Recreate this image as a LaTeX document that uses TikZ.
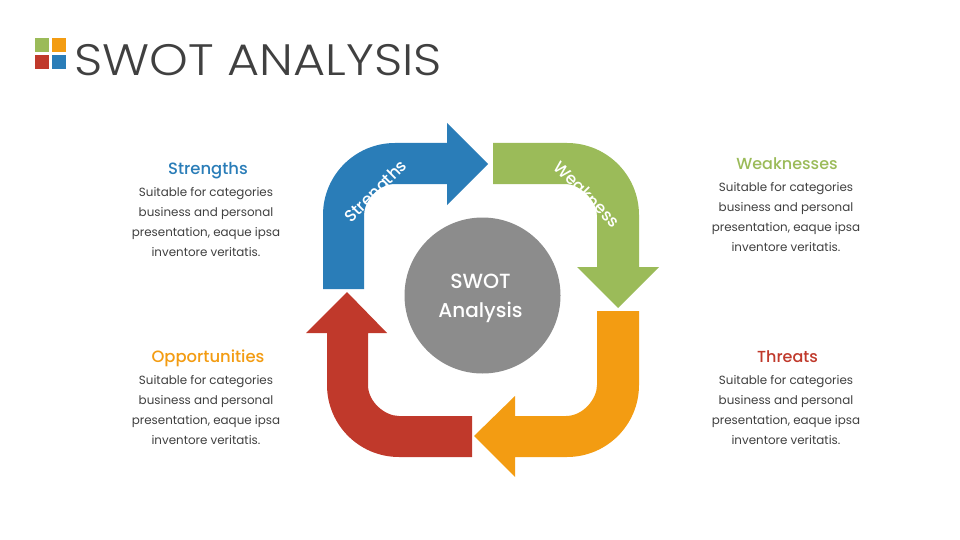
\documentclass[tikz,border=0pt]{standalone}
\usepackage{fontspec}
\setmainfont{Poppins}
\newfontfamily\titlefont[UprightFont=* Light]{Poppins}
\newfontfamily\medfont[UprightFont=* Medium]{Poppins}
\definecolor{cblue}{HTML}{2A7DB8}
\definecolor{cgreen}{HTML}{9BBB59}
\definecolor{corange}{HTML}{F39C12}
\definecolor{cred}{HTML}{C0392B}
\definecolor{cgray}{HTML}{8C8C8C}
\definecolor{ctext}{HTML}{404040}
\tikzset{
  body/.style={align=center,text=ctext,font=\fontsize{11.9}{20}\selectfont,inner sep=0pt,anchor=north},
  head/.style={font=\medfont\fontsize{16.4}{20}\selectfont,inner sep=0pt},
  arrowlabel/.style={text=white,font=\medfont\fontsize{16.5}{18}\selectfont,inner sep=0pt}
}
\begin{document}
\begin{tikzpicture}[x=1pt,y=-1pt]
\useasboundingbox (0,0) rectangle (960,540);
\fill[white] (0,0) rectangle (960,540);
% logo
\fill[cgreen] (35,38) rectangle (49,52);
\fill[corange] (52,38) rectangle (66,52);
\fill[cred] (35,55) rectangle (49,69);
\fill[cblue] (52,55) rectangle (66,69);
\node[anchor=west,inner sep=0pt,text=ctext,xscale=1.12,font=\titlefont\fontsize{44}{50}\selectfont] (title) at (74,60) {SWOT ANALYSIS};
% arrows
\fill[cblue] (323,289) -- (323,215) .. controls (323,175.2) and (355.2,143) .. (395,143) -- (447,143) -- (447,123) -- (488,164) -- (447,205) -- (447,184) -- (395,184) .. controls (377.9,184) and (364,201.1) .. (364,215) -- (364,289) -- cycle;
\fill[cgreen] (493,143) -- (567,143) .. controls (606.8,143) and (639,175.2) .. (639,215) -- (639,267) -- (659,267) -- (618,308) -- (577,267) -- (597,267) -- (597,215) .. controls (597,201.1) and (579.9,184) .. (566,184) -- (493,184) -- cycle;
\fill[corange] (639,311) -- (639,385) .. controls (639,424.8) and (606.8,457) .. (567,457) -- (515,457) -- (515,477) -- (474,436) -- (515,396) -- (515,416) -- (566,416) .. controls (583.1,416) and (597,398.9) .. (597,385) -- (597,311) -- cycle;
\fill[cred] (472,457) -- (399,457) .. controls (359.2,457) and (327,424.8) .. (327,385) -- (327,333) -- (306,333) -- (347,292) -- (387,333) -- (368,333) -- (368,385) .. controls (368,402.1) and (385.1,416) .. (399,416) -- (472,416) -- cycle;
\node[arrowlabel,rotate=45] (lstrength) at (377,192.5) {Strengths};
\node[arrowlabel,rotate=-45] (lweak) at (587,194) {Weakness};
% centre
\node[circle,fill=cgray,minimum size=156pt,inner sep=0pt] (centre) at (482.5,295.5) {};
\node[text=white,inner sep=0pt,font=\medfont\fontsize{20.5}{29}\selectfont] (ctop) at (480.5,281) {SWOT};
\node[text=white,inner sep=0pt,font=\medfont\fontsize{20}{29}\selectfont] (cbot) at (480.5,312) {Analysis};
% text blocks
\node[head,text=cblue] (hs) at (208,170.5) {Strengths};
\node[body] (bs) at (206,187.5) {Suitable for categories\\business and personal\\presentation, eaque ipsa\\inventore veritatis.};
\node[head,text=cgreen,font=\medfont\fontsize{16}{20}\selectfont] (hw) at (787,163.5) {Weaknesses};
\node[body] (bw) at (786,182.5) {Suitable for categories\\business and personal\\presentation, eaque ipsa\\inventore veritatis.};
\node[head,text=corange] (ho) at (208,358.5) {Opportunities};
\node[body] (bo) at (206,375.5) {Suitable for categories\\business and personal\\presentation, eaque ipsa\\inventore veritatis.};
\node[head,text=cred,font=\medfont\fontsize{16}{20}\selectfont] (ht) at (787.5,356.5) {Threats};
\node[body] (bt) at (786,375.5) {Suitable for categories\\business and personal\\presentation, eaque ipsa\\inventore veritatis.};
\end{tikzpicture}
\end{document}
